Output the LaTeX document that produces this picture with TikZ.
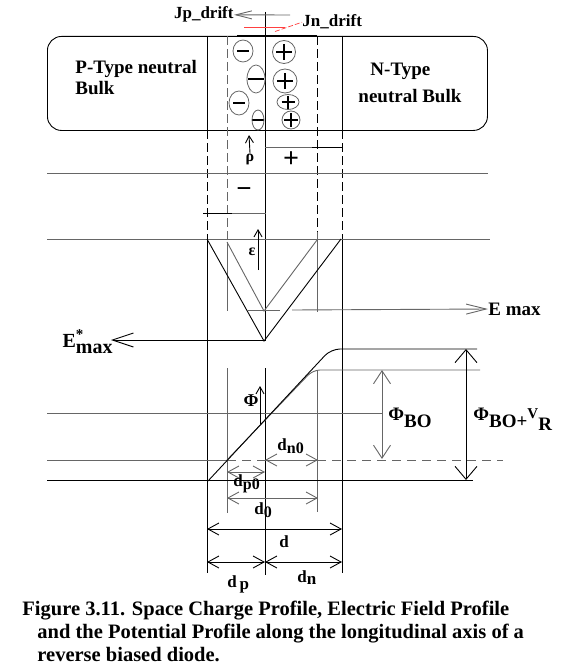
\documentclass[tikz,border=0pt]{standalone}
\usepackage{fontspec}
\setmainfont{Liberation Serif}
\usetikzlibrary{arrows.meta,shapes.geometric}
\begin{document}
\begin{tikzpicture}[x=1pt,y=-1pt,line width=0.9pt,
  grey/.style={draw=black!60},
  dsh/.style={dash pattern=on 9pt off 4pt},
  ar/.style={-{Straight Barb[length=12pt,width=12pt]}},
  dar/.style={{Straight Barb[length=11pt,width=12pt]}-{Straight Barb[length=11pt,width=12pt]}},
  sar/.style={-{Straight Barb[length=7pt,width=8pt]}},
  lab/.style={font=\bfseries\fontsize{19}{21}\selectfont, inner sep=0pt, text=black},
  slab/.style={font=\bfseries\fontsize{17}{19}\selectfont, inner sep=0pt, text=black},
  captxt/.style={font=\bfseries\fontsize{20.5}{23}\selectfont, inner sep=0pt, anchor=base west},
  chg/.style={ellipse, draw=black!60, line width=0.8pt, inner sep=0pt},
  neg/.style={chg, path picture={\draw[black,line width=2.8pt] ([xshift=-#1]path picture bounding box.center) -- ([xshift=#1]path picture bounding box.center);}},
  pos/.style={chg, path picture={\draw[black,line width=2.8pt] ([xshift=-#1]path picture bounding box.center) -- ([xshift=#1]path picture bounding box.center) ([yshift=-#1]path picture bounding box.center) -- ([yshift=#1]path picture bounding box.center);}},
]
\useasboundingbox (0,0) rectangle (574,669);

% ---------------- device box ----------------
\node[draw, rounded corners=14pt, minimum width=440pt, minimum height=94pt,
      anchor=north west, inner sep=0pt] (bulk) at (47,36) {};
\draw (237,35) -- (317,35);

% vertical guide lines
\draw (207,36) -- (207,130);
\draw[dsh] (207,130) -- (207,239);
\draw (207,239) -- (207,573);
\draw[grey,dsh] (227,36) -- (227,239);
\draw[grey] (227,242) -- (227,311);
\draw[grey] (227,368) -- (227,513);
\draw (265,12) -- (265,341);
\draw (265,368) -- (265,575);
\draw[dsh] (317,36) -- (317,239);
\draw[grey] (317,232) -- (317,312);
\draw[grey] (317,370) -- (317,512);
\draw (342,36) -- (342,130);
\draw[dsh] (342,130) -- (342,239);
\draw (342,239) -- (342,573);

% charges
\node[neg=6pt, minimum width=20pt, minimum height=22pt] (m1) at (243,51) {};
\node[neg=8pt, minimum width=18pt, minimum height=28pt] (m2) at (256,79) {};
\node[neg=6pt, minimum width=20pt, minimum height=24pt] (m3) at (239,103) {};
\node[neg=6pt, minimum width=12pt, minimum height=20pt] (m4) at (258,120) {};
\node[pos=8pt, minimum width=23pt, minimum height=23pt] (p1) at (284,52) {};
\node[pos=8pt, minimum width=24pt, minimum height=24pt] (p2) at (285,81) {};
\node[pos=6.5pt, minimum width=22pt, minimum height=15pt] (p3) at (288,102) {};
\node[pos=7pt, minimum width=18pt, minimum height=18pt] (p4) at (291,120) {};

% texts in the box
\node[lab, anchor=base west] (pt1) at (75,74) {P-Type neutral};
\node[lab, anchor=base west] (pt2) at (75,94) {Bulk};
\node[lab, anchor=base west] (nt1) at (370,75) {N-Type};
\node[lab, anchor=base west] (nt2) at (358,102) {neutral Bulk};

% drift currents
\node[slab, anchor=base east] (jp) at (234,19) {Jp\_drift};
\coordinate (jpS) at (290,15);
\draw[grey, -{Straight Barb[length=16pt,width=8pt]}] (jpS) -- (jp.east);
\node[slab, anchor=base west] (jn) at (302,27) {Jn\_drift};
\coordinate (jnA) at (244,27.5);
\coordinate (jnB) at (285,27.5);
\coordinate (jnC) at (275,31.5);
\draw[red!75] (jnA) -- (jnB);
\draw[red!75, dash pattern=on 5pt off 2pt, line width=0.7pt] (jnC) -- (jn.west);

% ---------------- charge profile ----------------
\draw[grey] (47,173) -- (488,173);
\draw[grey] (47,239) -- (490,239);
\draw[grey] (203,213) -- (266,213);
\draw (203,213) -- (232,213);
\draw[grey] (265,147) -- (343,147);
\draw (312,147) -- (343,147);
\node[font=\bfseries\fontsize{28}{28}\selectfont, inner sep=0pt] (qp) at (291,160) {+};
\node[font=\bfseries\fontsize{27}{27}\selectfont, inner sep=0pt] (qn) at (244,193) {−};
\node[font=\bfseries\fontsize{16}{16}\selectfont, inner sep=0pt] (rho) at (250,159) {ρ};
\draw[sar] (rho.north) -- (249,135);

% ---------------- field profile ----------------
\coordinate (eL) at (207,239);
\coordinate (eR) at (341,239);
\coordinate (eB) at (264,341);
\draw (eL) -- (eB) -- (eR);
\coordinate (fL) at (227,242);
\coordinate (fR) at (317,240);
\coordinate (fB) at (264,311);
\draw[grey] (fL) -- (fB) -- (fR);
\node[font=\bfseries\fontsize{16}{16}\selectfont, inner sep=0pt] (eps) at (252,252) {ε};
\coordinate (epsA) at (258,270);
\coordinate (epsB) at (258,229);
\draw[sar] (epsA) -- (epsB);
\node[lab, anchor=west] (emax) at (488,309) {E max};
\coordinate (emA) at (247,310);
\coordinate (emB) at (280,310);
\coordinate (emC) at (292,310);
\draw[grey] (emA) -- (emB);
\draw[grey, -{Straight Barb[length=20pt,width=10pt]}] (emC) -- (emax.west);
\node[font=\bfseries\fontsize{20}{20}\selectfont, inner sep=0pt, anchor=base east] (ems)
  at (113,347) {E\rlap{\raisebox{8pt}{\fontsize{15}{15}\selectfont *}}\raisebox{-6pt}{max}};
\coordinate (emsA) at (264,340);
\coordinate (emsB) at (111,340);
\draw[-{Straight Barb[length=21pt,width=14pt]}] (emsA) -- (emsB);

% ---------------- potential profile ----------------
\draw[grey] (47,413) -- (383,413);
\draw[grey] (47,460) -- (227,460);
\draw[grey, dash pattern=on 9pt off 6pt] (227,460) -- (503,460);
\draw (47,480) -- (473,480);
\draw[grey, rounded corners=7pt] (227,460) -- (313,370) -- (480,370);
\draw[rounded corners=9pt] (208,481) -- (331,349) -- (477,349);
\node[font=\bfseries\fontsize{18}{18}\selectfont, inner sep=0pt] (phi) at (251,401) {Φ};
\coordinate (phA) at (260,424);
\coordinate (phB) at (260,386);
\draw[sar] (phA) -- (phB);

\coordinate (boT) at (382,370);
\coordinate (boB) at (382,459);
\draw[grey, {Straight Barb[length=13pt,width=17pt]}-{Straight Barb[length=13pt,width=17pt]}] (boT) -- (boB);
\node[font=\bfseries\fontsize{19}{19}\selectfont, inner sep=0pt, anchor=base west] (phbo)
  at (388,420) {Φ\raisebox{-7pt}{BO}};
\coordinate (vrT) at (466,349);
\coordinate (vrB) at (466,480);
\draw[{Straight Barb[length=13pt,width=22pt]}-{Straight Barb[length=13pt,width=22pt]}] (vrT) -- (vrB);
\node[font=\bfseries\fontsize{19}{19}\selectfont, inner sep=0pt, anchor=base west] (phvr)
  at (473,420) {Φ\raisebox{-7pt}{BO+}\raisebox{2pt}{\fontsize{15}{15}\selectfont V}\raisebox{-10pt}{R}};

% ---------------- widths ----------------
\coordinate (a1) at (265,460); \coordinate (a2) at (318,460);
\draw[grey, dar] (a1) -- (a2);
\node[slab, anchor=base west] (ldn0) at (277,450) {d\raisebox{-3pt}{\fontsize{16}{16}\selectfont n0}};
\coordinate (b1) at (227,472); \coordinate (b2) at (265,472);
\draw[grey, dar] (b1) -- (b2);
\node[slab, anchor=base west] (ldp0) at (233,486) {d\raisebox{-3pt}{\fontsize{16}{16}\selectfont p0}};
\coordinate (c1) at (227,498); \coordinate (c2) at (318,498);
\draw[grey, dar] (c1) -- (c2);
\node[slab, anchor=base west] (ld0) at (254,514) {d\raisebox{-3pt}{\fontsize{16}{16}\selectfont 0}};
\coordinate (d1) at (207,529); \coordinate (d2) at (342,529);
\draw[dar] (d1) -- (d2);
\node[slab, anchor=base west] (ld) at (279,547) {d};
\coordinate (e1) at (207,562); \coordinate (e2) at (265,562); \coordinate (e3) at (342,562);
\draw[dar] (e1) -- (e2);
\draw[dar] (e2) -- (e3);
\node[slab, anchor=base west] (ldp) at (227,587) {d\,\raisebox{-2pt}{p}};
\node[slab, anchor=base west] (ldn) at (297,582) {d\raisebox{-2pt}{n}};

% ---------------- caption ----------------
\node[captxt] (cap1) at (22,615) {Figure 3.11. Space Charge Profile, Electric Field Profile};
\node[captxt] (cap2) at (37,638) {and the Potential Profile along the longitudinal axis of a};
\node[captxt] (cap3) at (37,661) {reverse biased diode.};
\end{tikzpicture}
\end{document}
